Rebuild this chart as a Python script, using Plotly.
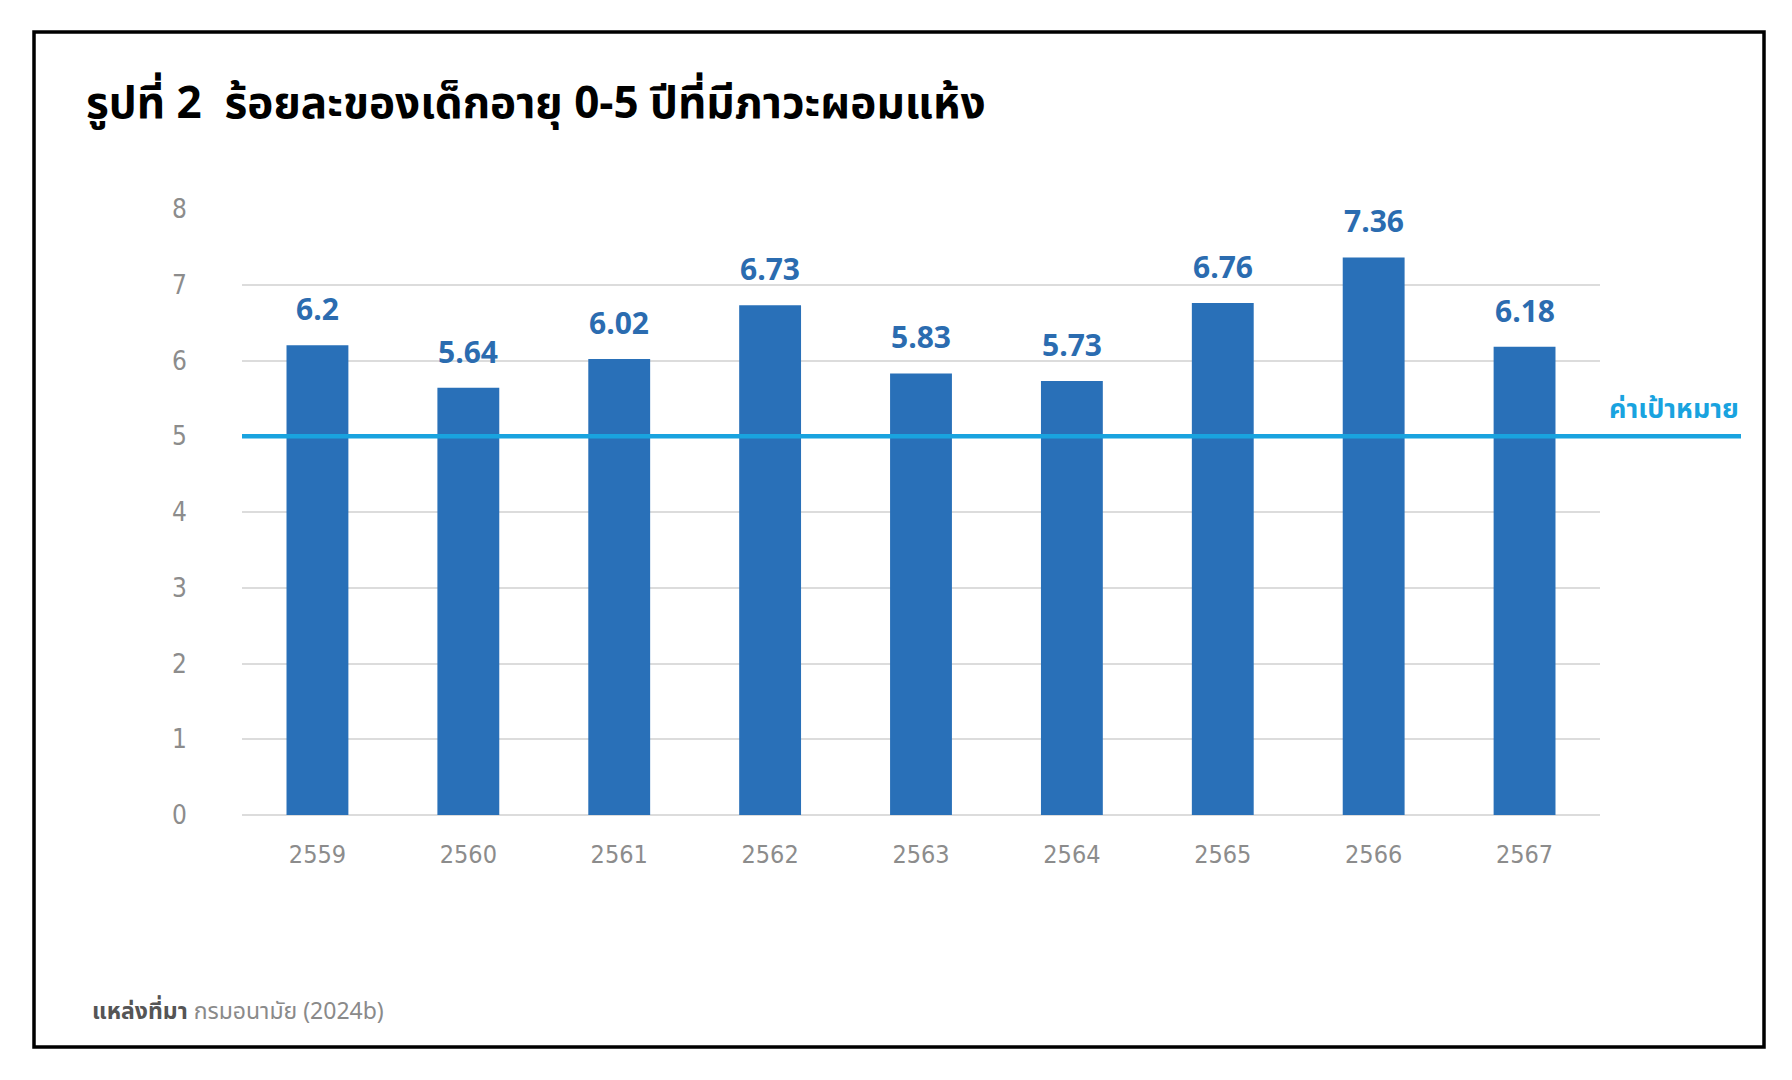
import plotly.graph_objects as go

# ---- data ----
years = ["2559", "2560", "2561", "2562", "2563", "2564", "2565", "2566", "2567"]
values = [6.2, 5.64, 6.02, 6.73, 5.83, 5.73, 6.76, 7.36, 6.18]
target_value = 5
target_label = "ค่าเป้าหมาย"
y_ticks = [0, 1, 2, 3, 4, 5, 6, 7, 8]
title_text = "รูปที่ 2  ร้อยละของเด็กอายุ 0-5 ปีที่มีภาวะผอมแห้ง"
source_bold = "แหล่งที่มา"
source_rest = " กรมอนามัย (2024b)"

# ---- layout geometry (pixels) ----
W, H = 1792, 1080
L, R, T, B = 242, 192, 209, 265
PW, PH = W - L - R, H - T - B


def px(x):
    return (x - L) / PW


def py(y):
    return (H - B - y) / PH


BAR = "#2970b8"
LBL = "#2b6cb0"
TARGET = "#19a3df"
TICK = "#8c8c8c"
GRID = "#dcdcdc"
THAI = "Noto Sans Thai, Noto Sans Thai UI, Loma, Tlwg Typo, Garuda, Noto Sans, sans-serif"
NARROW = "Liberation Sans Narrow, DejaVu Sans Condensed, Roboto Condensed, sans-serif"

idx = list(range(len(years)))

fig = go.Figure()
fig.add_trace(go.Bar(
    x=idx, y=values, marker=dict(color=BAR, line=dict(width=0)),
    width=0.41, customdata=years, hovertemplate="%{customdata}: %{y}<extra></extra>",
    showlegend=False,
))

annotations = []
for i, v in zip(idx, values):
    annotations.append(dict(
        x=i, y=v, xref="x", yref="y", text=f"{v:g}", showarrow=False,
        yanchor="bottom", yshift=14,
        font=dict(family="Open Sans", size=30, color=LBL, weight="bold"),
    ))

# target label
annotations.append(dict(
    x=px(1741), y=target_value, xref="paper", yref="y", text=f"<b>{target_label}</b>",
    showarrow=False, xanchor="right", yanchor="bottom", yshift=4,
    font=dict(family=THAI, size=27, color=TARGET),
))
# title
annotations.append(dict(
    x=px(84), y=py(105), xref="paper", yref="paper", text=f"<b>{title_text}</b>",
    showarrow=False, xanchor="left", yanchor="middle",
    font=dict(family=THAI, size=44, color="#000000"),
))
# source
annotations.append(dict(
    x=px(90), y=py(1012), xref="paper", yref="paper",
    text=f"<b><span style='color:#555555'>{source_bold}</span></b>{source_rest}",
    showarrow=False, xanchor="left", yanchor="middle",
    font=dict(family=THAI, size=23, color="#8a8a8a"),
))

shapes = [
    # target line
    dict(type="line", xref="paper", yref="y", x0=0, x1=px(1741),
         y0=target_value, y1=target_value, line=dict(color=TARGET, width=4.5), layer="above"),
    # frame
    dict(type="rect", xref="paper", yref="paper", x0=px(34), x1=px(1764),
         y0=py(1047), y1=py(32), line=dict(color="#000000", width=3.5), layer="above"),
]

fig.update_layout(
    width=W, height=H,
    margin=dict(l=L, r=R, t=T, b=B, autoexpand=False),
    paper_bgcolor="white", plot_bgcolor="white",
    annotations=annotations, shapes=shapes,
    xaxis=dict(
        range=[-0.5, len(years) - 0.5], tickvals=idx, ticktext=years,
        showgrid=False, showline=False, zeroline=False, ticks="",
        tickfont=dict(family=NARROW, size=25, color=TICK),
        ticklabelstandoff=22,
    ),
    yaxis=dict(
        range=[0, 8], tickvals=y_ticks, showgrid=True, gridcolor=GRID, gridwidth=1.5,
        zeroline=True, zerolinecolor=GRID, zerolinewidth=1.5, showline=False, ticks="",
        tickfont=dict(family=NARROW, size=26, color=TICK),
        ticklabelstandoff=54,
    ),
    font=dict(family=THAI),
)

fig.write_html("out.html", config={"displayModeBar": False},
               post_script="document.body.style.margin='0';")
